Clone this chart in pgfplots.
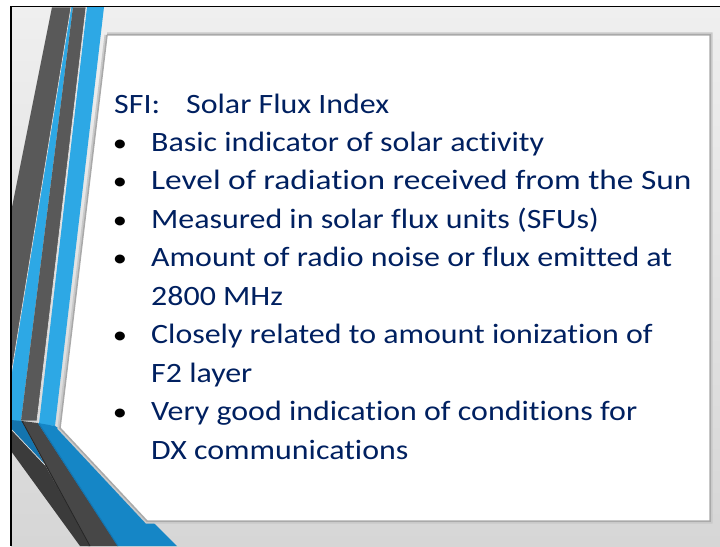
\documentclass[border=0pt]{standalone}
\usepackage{pgfplots}
\pgfplotsset{compat=1.18}
\usepackage{fontspec}
\setmainfont{Carlito}[Ligatures=NoCommon, FakeStretch=1.14]
\definecolor{txt}{HTML}{002060}
\definecolor{bgtop}{HTML}{EFEFEF}
\definecolor{bgbot}{HTML}{D6D6D6}
\definecolor{darkA}{HTML}{595959}
\definecolor{lblue}{HTML}{2DA8E5}
\definecolor{lowblue}{HTML}{1586C6}
\definecolor{lowdark}{HTML}{474747}
\definecolor{lowblack}{HTML}{3B3B3B}
\definecolor{dblue}{HTML}{1474AE}
\definecolor{sep}{HTML}{E4E4E4}
\definecolor{shad}{HTML}{C9C9C9}
\definecolor{pedge}{HTML}{A9A9A9}
\begin{document}
\begin{tikzpicture}
\begin{axis}[
  width=720bp, height=546bp, scale only axis,
  xmin=0, xmax=720, ymin=0, ymax=546, y dir=reverse,
  axis lines=none, xtick=\empty, ytick=\empty, clip=true,
]
% page
\addplot[fill=white, draw=none] coordinates {(0,0)(720,0)(720,546)(0,546)};
% background gradient
\fill[top color=bgtop, bottom color=bgbot] (axis cs:11,6.5) rectangle (axis cs:720,546);
% upper stripes
\addplot[fill=lblue, draw=none] coordinates {(71,7)(73,7)(21,421)(11,424)(11,376)};
\addplot[fill=darkA, draw=sep, line width=0.6bp] coordinates {(52,7)(71,7)(11,376)(11,212)};
\addplot[fill=darkA, draw=sep, line width=0.6bp] coordinates {(73,7)(86,7)(37,421)(21,421)};
\addplot[fill=lblue, draw=none] coordinates {(87,7)(104,7)(55,426)(39,424)};
% lower stripes
\addplot[fill=dblue, draw=none] coordinates {(11,420)(22,421)(45,465)(11,430)};
\addplot[fill=lowdark, draw=none] coordinates {(22,421)(38,423)(118,546)(88,546)};
\addplot[fill=lowblue, draw=none] coordinates {(38,423)(55,426)(60,429)(177,546)(118,546)};
\addplot[draw=dblue, line width=1bp] coordinates {(39,424)(118,546)};
\addplot[fill=lowblack, draw=none] coordinates {(11,429)(45,465)(90,546)(80,546)(11,451)};
\addplot[draw=sep, line width=0.7bp] coordinates {(11,429)(45,465)};
\addplot[draw=black!85, line width=0.8bp] coordinates {(22,421)(90,546)};
% panel with shadow
\addplot[draw=shad, line width=5bp, fill=shad] coordinates {(107,35)(710,35)(710,521)(147,521)(60,428)(107,35)};
\addplot[draw=pedge, line width=1.5bp, fill=white] coordinates {(107,35)(710,35)(710,521)(147,521)(60,428)(107,35)};
% frame
\draw[black, line width=1.8bp] (axis cs:11,546) -- (axis cs:11,6.5) -- (axis cs:720,6.5);
% text
\begin{scope}[every node/.style={anchor=base west, inner sep=0pt, text=txt, font=\fontsize{28bp}{34bp}\selectfont}]
\node at (axis cs:114,113) {SFI:};
\node at (axis cs:186,113) {Solar Flux Index};
\node at (axis cs:151,151) {Basic indicator of solar activity};
\node at (axis cs:151,189.5) {\scalebox{1.045}[1]{Level of radiation received from the Sun}};
\node at (axis cs:151,228) {Measured in solar flux units (SFUs)};
\node at (axis cs:151,266.5) {Amount of radio noise or flux emitted at};
\node at (axis cs:151,305) {2800 MHz};
\node at (axis cs:151,343.5) {Closely related to amount ionization of};
\node at (axis cs:151,382) {F2 layer};
\node at (axis cs:151,420.5) {Very good indication of conditions for};
\node at (axis cs:151,459) {DX communications};
\end{scope}
\begin{scope}[every node/.style={anchor=base, inner sep=0pt, text=black, font=\fontsize{25bp}{30bp}\selectfont}]
\node at (axis cs:120,151) {•};
\node at (axis cs:120,189.5) {•};
\node at (axis cs:120,228) {•};
\node at (axis cs:120,266.5) {•};
\node at (axis cs:120,343.5) {•};
\node at (axis cs:120,420.5) {•};
\end{scope}
\end{axis}
\end{tikzpicture}
\end{document}
